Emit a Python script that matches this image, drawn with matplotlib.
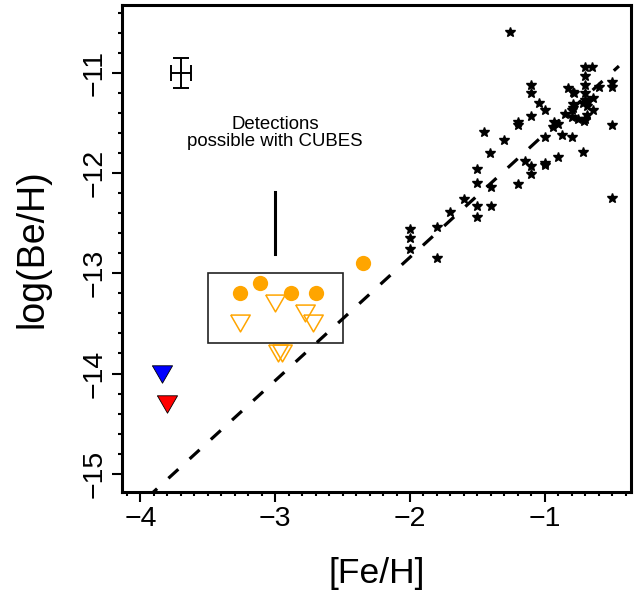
import matplotlib
matplotlib.use("Agg")
import matplotlib.pyplot as plt
from matplotlib.patches import Rectangle
from matplotlib.ticker import MultipleLocator

plt.rcParams['font.family'] = ['Liberation Sans', 'DejaVu Sans']

# ---- literature stars (black asterisks) ----
star_feh = [-1.26, -0.70, -0.65, -0.70, -0.50, -0.50, -1.10, -1.10, -0.83, -0.79,
            -0.78, -0.70, -0.70, -0.60, -0.64, -1.04, -1.00, -0.79, -0.72, -0.69,
            -0.68, -0.70, -0.64, -0.80, -0.79, -0.85, -0.80, -0.75, -0.70, -0.69,
            -0.71, -0.93, -0.90, -0.94, -1.10, -1.20, -1.20, -1.45, -0.50, -1.30,
            -1.00, -0.87, -0.80, -1.41, -0.72, -1.15, -1.10, -1.10, -1.00, -1.00,
            -0.90, -1.50, -1.50, -1.20, -1.40, -1.60, -1.50, -1.50, -1.40, -1.70,
            -1.80, -2.00, -2.00, -2.00, -1.80, -0.50]
star_be = [-10.59, -10.94, -10.94, -11.03, -11.09, -11.14, -11.12, -11.20, -11.15, -11.19,
           -11.20, -11.12, -11.20, -11.14, -11.25, -11.30, -11.37, -11.31, -11.30, -11.33,
           -11.28, -11.27, -11.37, -11.37, -11.35, -11.41, -11.44, -11.46, -11.46, -11.42,
           -11.48, -11.49, -11.51, -11.54, -11.43, -11.49, -11.52, -11.59, -11.52, -11.67,
           -11.64, -11.62, -11.64, -11.80, -11.79, -11.88, -11.93, -12.01, -11.90, -11.92,
           -11.84, -11.96, -12.10, -12.11, -12.14, -12.26, -12.33, -12.44, -12.33, -12.39,
           -12.54, -12.56, -12.65, -12.76, -12.85, -12.25]

# ---- orange detections and upper limits ----
det_feh = [-3.26, -3.11, -2.88, -2.70, -2.35]
det_be = [-13.20, -13.10, -13.20, -13.20, -12.90]
lim_feh = [-3.00, -3.26, -2.78, -2.72, -2.98, -2.95]
lim_be = [-13.30, -13.50, -13.40, -13.50, -13.80, -13.80]

# ---- two most metal-poor upper limits ----
blue_feh, blue_be = [-3.84], [-14.00]
red_feh, red_be = [-3.80], [-14.30]

# ---- dashed relation (end points) ----
fit_feh = [-3.95, -0.45]
fit_be = [-15.24, -10.93]

# ---- typical error bar ----
err_feh, err_be = -3.70, -11.00
err_x, err_y = 0.072, 0.15

ORANGE = "#FFA500"
tri_down = [(-1, 0.866), (1, 0.866), (0, -0.866), (-1, 0.866)]

fig = plt.figure(figsize=(6.4, 5.9), dpi=100)
ax = fig.add_axes([0.190, 0.1666, 0.796, 0.825])

ax.plot(fit_feh, fit_be, color="black", lw=2.3, dashes=(4.2, 4.8), zorder=2)
ax.plot(star_feh, star_be, ls="none", marker="*", ms=7.5, color="black", zorder=3)
ax.plot(det_feh, det_be, ls="none", marker="o", ms=11, color=ORANGE,
        markeredgewidth=0, zorder=4)
ax.plot(lim_feh, lim_be, ls="none", marker=tri_down, ms=14, mfc="none",
        mec=ORANGE, mew=1.1, zorder=4)
ax.plot(blue_feh, blue_be, ls="none", marker=tri_down, ms=14.5, mfc="blue",
        mec="black", mew=0.6, zorder=4)
ax.plot(red_feh, red_be, ls="none", marker=tri_down, ms=14.5, mfc="red",
        mec="black", mew=0.6, zorder=4)

ax.errorbar([err_feh], [err_be], xerr=err_x, yerr=err_y, fmt="none",
            ecolor="black", elinewidth=1.4, capsize=5.5, capthick=1.4)

ax.add_patch(Rectangle((-3.5, -13.7), 1.0, 0.7, fill=False, ec="#222222",
                       lw=1.2, zorder=1))
ax.plot([-3.0, -3.0], [-12.19, -12.81], color="black", lw=2.2)
ax.text(-3.0, -11.6, "Detections\npossible with CUBES", ha="center",
        va="center", fontsize=13.4, linespacing=1.0)

ax.set_xlim(-4.14, -0.36)
ax.set_ylim(-15.18, -10.32)
ax.xaxis.set_major_locator(MultipleLocator(1))
ax.xaxis.set_minor_locator(MultipleLocator(0.1))
ax.yaxis.set_major_locator(MultipleLocator(1))
ax.yaxis.set_minor_locator(MultipleLocator(0.2))
ax.tick_params(which="major", length=7.2, width=1.5, labelsize=20.5, pad=3)
ax.tick_params(which="minor", length=3.2, width=1.5)
for lab in ax.get_yticklabels():
    lab.set_rotation(90)
    lab.set_va("center")
for sp in ax.spines.values():
    sp.set_linewidth(2.2)

ax.set_xlabel("[Fe/H]", fontsize=25.5, labelpad=18)
ax.set_ylabel("log(Be/H)", fontsize=27, labelpad=22)

fig.savefig("out.png", dpi=100)
